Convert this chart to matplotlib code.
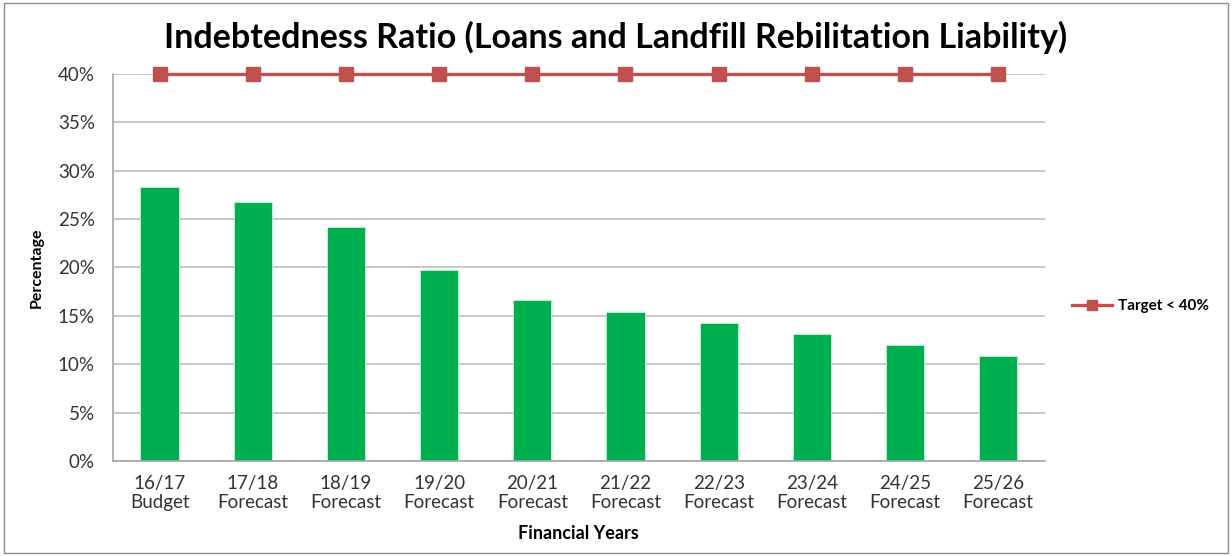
import matplotlib
matplotlib.use('Agg')
import matplotlib.pyplot as plt
from matplotlib.patches import Rectangle
from matplotlib.ticker import FuncFormatter, MultipleLocator


# Indebtedness ratio per financial year (percent)
YEARS = ['16/17\nBudget', '17/18\nForecast', '18/19\nForecast', '19/20\nForecast',
         '20/21\nForecast', '21/22\nForecast', '22/23\nForecast', '23/24\nForecast',
         '24/25\nForecast', '25/26\nForecast']
RATIO = [28.3, 26.8, 24.2, 19.7, 16.6, 15.4, 14.3, 13.1, 12.0, 10.9]
TARGET = [40, 40, 40, 40, 40, 40, 40, 40, 40, 40]

BAR_COLOR = '#00AF50'
LINE_COLOR = '#C0504D'
GRID_COLOR = '#BFBFBF'
TEXT_COLOR = '#333333'

plt.rcParams['font.family'] = ['Lato', 'DejaVu Sans']

fig = plt.figure(figsize=(12.32, 5.56), dpi=100)
ax = fig.add_axes([0.0917, 0.1709, 0.7563, 0.6961])

x = list(range(len(YEARS)))
ax.bar(x, RATIO, width=0.41, color=BAR_COLOR, edgecolor='#C8F0D6',
       linewidth=0.6, zorder=2)
line, = ax.plot(x, TARGET, color=LINE_COLOR, linewidth=2.4, marker='s',
                markersize=10, zorder=3, clip_on=False)

ax.set_xlim(-0.5, len(YEARS) - 0.5)
ax.set_ylim(0, 40)
ax.yaxis.set_major_locator(MultipleLocator(5))
ax.yaxis.set_major_formatter(FuncFormatter(lambda v, p: f'{v:.0f}%'))
ax.grid(axis='y', color=GRID_COLOR, linewidth=1.2, zorder=0)
ax.set_axisbelow(True)

ax.set_xticks(x)
ax.set_xticklabels(YEARS, fontsize=13.5, linespacing=1.15)
ax.tick_params(axis='x', length=0, pad=10, labelcolor=TEXT_COLOR)
ax.tick_params(axis='y', length=0, pad=13, labelsize=13.5, labelcolor=TEXT_COLOR)

for side in ('top', 'right'):
    ax.spines[side].set_visible(False)
for side in ('left', 'bottom'):
    ax.spines[side].set_color('#A6A6A6')
    ax.spines[side].set_linewidth(1.2)

fig.suptitle('Indebtedness Ratio (Loans and Landfill Rebilitation Liability)',
             fontsize=24.5, fontweight='bold', x=0.5, y=0.962)
ax.set_ylabel('Percentage', fontsize=11.5, fontweight='bold', labelpad=10)
ax.set_xlabel('Financial Years', fontsize=13, fontweight='bold', labelpad=10)

ax.legend([line], ['Target < 40%'], loc='center left', bbox_to_anchor=(1.015, 0.4),
          frameon=False, prop={'weight': 'bold', 'size': 11},
          handlelength=2.6, handletextpad=0.4, markerscale=0.7)

# thin outline around the chart area
fig.patches.append(Rectangle((0.003, 0.005), 0.994, 0.99, transform=fig.transFigure,
                             fill=False, edgecolor='#8C8C8C', linewidth=1.0))

fig.savefig('out.png', dpi=100)
